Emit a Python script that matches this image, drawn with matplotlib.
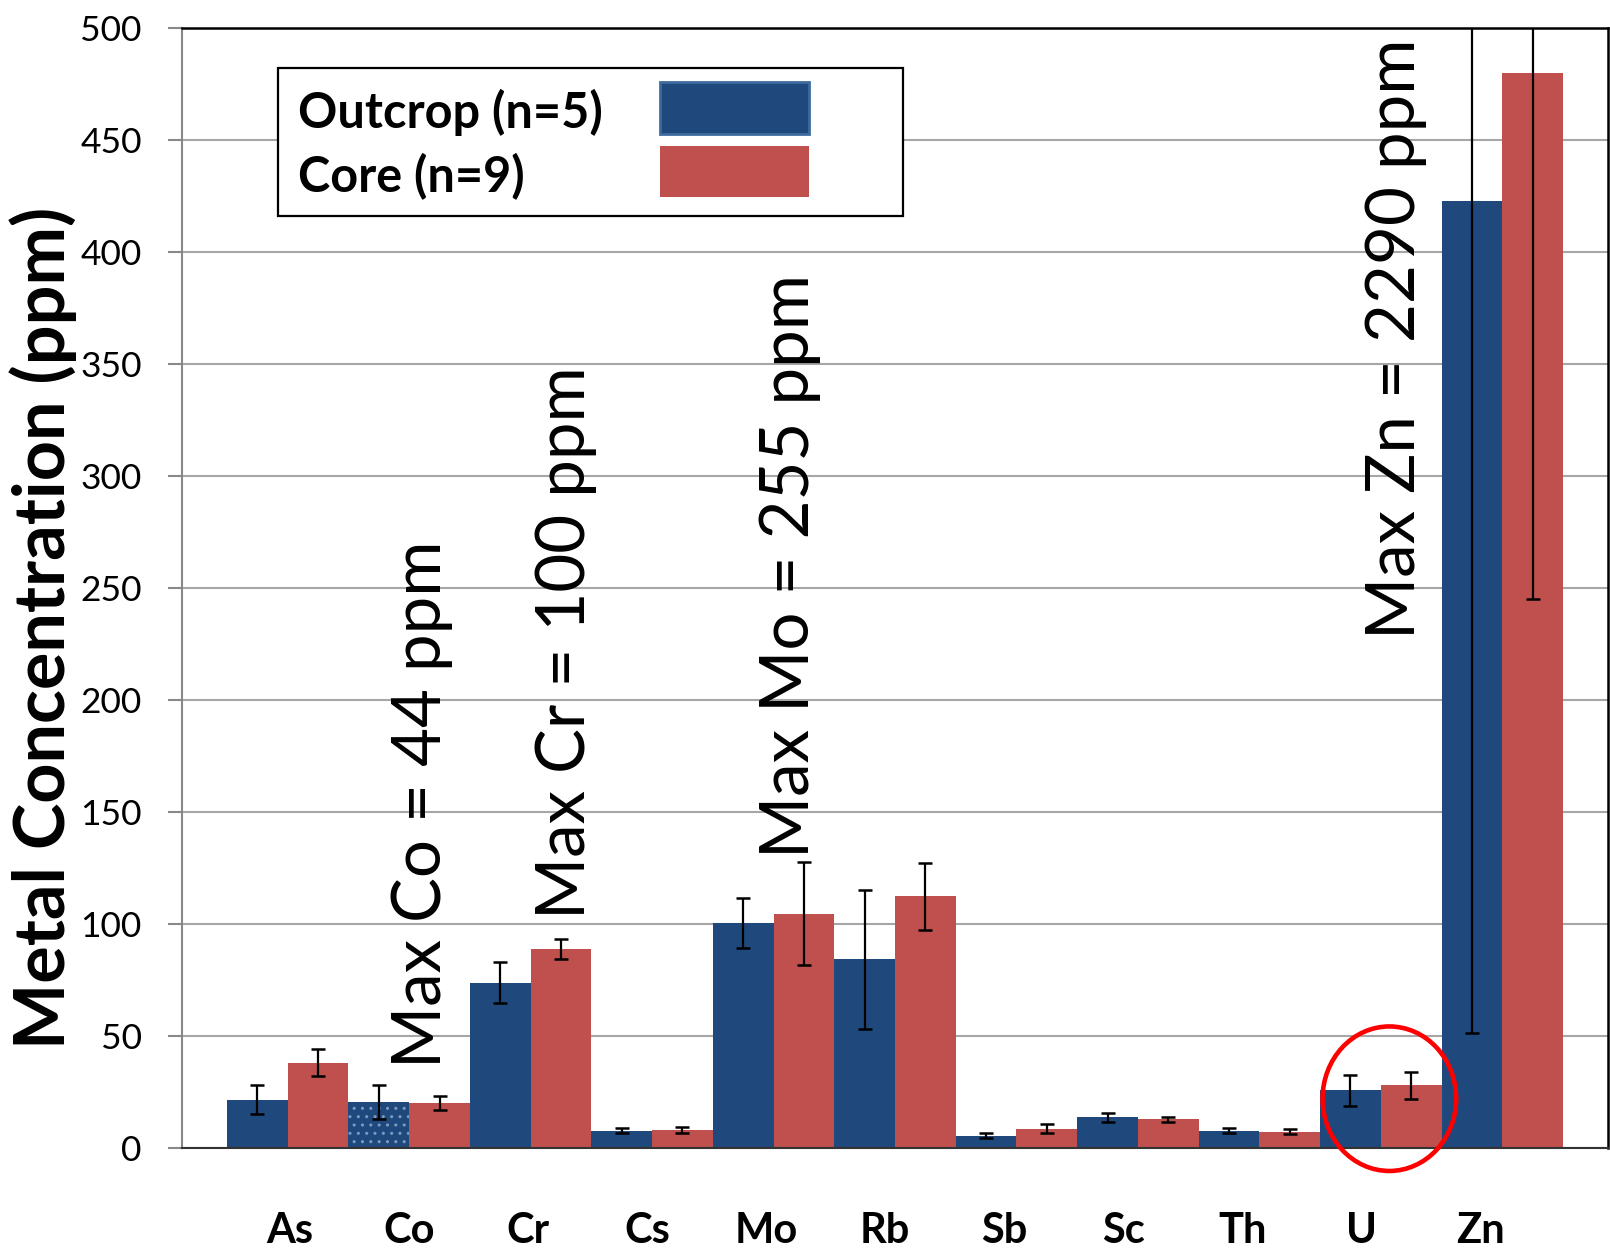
import numpy as np
import matplotlib
matplotlib.use("Agg")
import matplotlib.pyplot as plt
from matplotlib.patches import Rectangle, Ellipse

plt.rcParams['font.family'] = ['Lato', 'DejaVu Sans']

# ---- data ----
elements = ["As", "Co", "Cr", "Cs", "Mo", "Rb", "Sb", "Sc", "Th", "U", "Zn"]
outcrop_mean = [21.5, 20.6, 73.8, 7.8, 100.4, 84.3, 5.5, 13.7, 7.8, 25.7, 422.5]
outcrop_err = [6.5, 7.7, 9.0, 1.2, 11.0, 31.0, 1.0, 2.0, 1.2, 7.0, 371.0]
core_mean = [38.0, 20.0, 89.0, 8.2, 104.5, 112.3, 8.7, 12.8, 7.3, 28.0, 480.0]
core_err = [6.0, 3.0, 4.5, 1.3, 23.0, 15.0, 2.2, 1.0, 1.2, 6.0, 235.0]
series_labels = ["Outcrop (n=5)", "Core (n=9)"]
y_ticks = [0, 50, 100, 150, 200, 250, 300, 350, 400, 450, 500]
max_notes = ["Max Co = 44 ppm", "Max Cr = 100 ppm", "Max Mo = 255 ppm", "Max Zn = 2290 ppm"]
ylabel = "Metal Concentration (ppm)"

blue = "#1F497D"
red = "#C0504D"

W, H = 1610, 1257
fig = plt.figure(figsize=(W / 100, H / 100), dpi=100)
ax = fig.add_axes([182 / W, 1 - 1148 / H, (1608 - 182) / W, (1148 - 27.7) / H])

x = np.arange(len(elements))
bw = 0.5
b1 = ax.bar(x - bw / 2, outcrop_mean, bw, color=blue, zorder=2, linewidth=0)
b2 = ax.bar(x + bw / 2, core_mean, bw, color=red, zorder=2, linewidth=0)
# dotted pattern on the Co outcrop bar
b1[1].set_hatch('..')
b1[1].set_edgecolor('#7d9bc2')
b1[1].set_linewidth(0)

ek = dict(fmt='none', ecolor='black', elinewidth=1.6, capsize=5, capthick=1.8, zorder=3)
ax.errorbar(x - bw / 2, outcrop_mean, yerr=outcrop_err, **ek)
ax.errorbar(x + bw / 2, core_mean, yerr=core_err, **ek)

ax.set_xlim(-0.87, 10.87)
ax.set_ylim(0, 500)
ax.set_yticks(y_ticks)
ax.set_yticklabels([str(v) for v in y_ticks], fontsize=25.5)
ax.tick_params(axis='y', direction='out', length=10, width=1.5, color='#888888', pad=19)
ax.yaxis.grid(True, color='#a6a6a6', linewidth=1.5, zorder=0)
ax.set_axisbelow(True)

ax.set_xticks(x * 0.98 + 0.02)
ax.set_xticklabels(elements, fontsize=30, fontweight='bold')
ax.tick_params(axis='x', length=0, pad=46)

for s in ['top', 'right']:
    ax.spines[s].set_color('black')
    ax.spines[s].set_linewidth(1.8)
ax.spines['left'].set_color('#888888')
ax.spines['left'].set_linewidth(1.5)
ax.spines['bottom'].set_color('#333333')
ax.spines['bottom'].set_linewidth(1.5)

fig.text(43 / W, 1 - 628 / H, ylabel, rotation=90, ha='center', va='center',
         fontsize=50.5, fontweight='bold')

# rotated max annotations (baseline start anchored)
note_x = [1.266, 2.45, 4.29, 9.28]
note_y = [35.7, 102.1, 129.6, 227.0]
for t, nx, ny in zip(max_notes, note_x, note_y):
    ax.text(nx, ny, t, rotation=90, rotation_mode='anchor', ha='left', va='baseline',
            fontsize=48.3, zorder=4)

# red circle around U
ax.add_patch(Ellipse((9.07, 22), 1.10, 64.5, fill=False, edgecolor='#ff0000',
                     linewidth=3.3, clip_on=False, zorder=5))

# legend box
def fx(px):
    return px / W

def fy(py):
    return 1 - py / H

fig.patches.append(Rectangle((fx(278), fy(216)), (903 - 278) / W, (216 - 68) / H,
                             transform=fig.transFigure, facecolor='white',
                             edgecolor='black', linewidth=1.6, zorder=6))
fig.patches.append(Rectangle((fx(660), fy(134)), 149 / W, 52 / H, transform=fig.transFigure,
                             facecolor=blue, edgecolor='#3e6b9e', linewidth=2, zorder=7))
fig.patches.append(Rectangle((fx(660), fy(197)), 149 / W, 51 / H, transform=fig.transFigure,
                             facecolor=red, edgecolor='none', zorder=7))
fig.text(fx(298), fy(112), series_labels[0], fontsize=35, fontweight='bold',
         ha='left', va='center', zorder=8)
fig.text(fx(298), fy(177), series_labels[1], fontsize=35, fontweight='bold',
         ha='left', va='center', zorder=8)

fig.savefig("out.png", dpi=100)
